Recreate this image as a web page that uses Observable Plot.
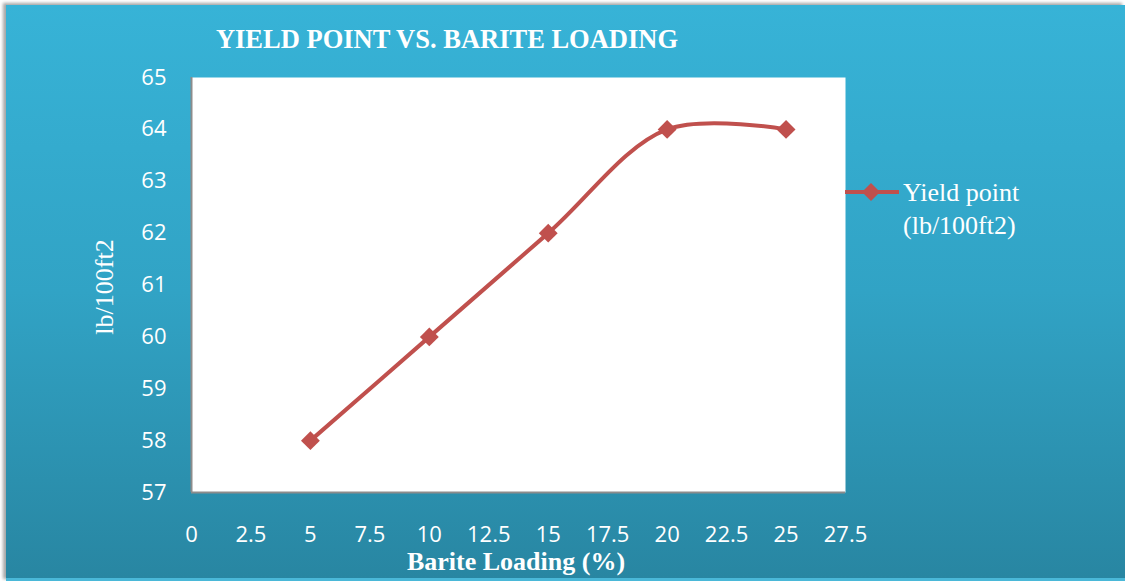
<!DOCTYPE html>
<html>
<head>
<meta charset="utf-8">
<script src="https://cdn.jsdelivr.net/npm/d3@7"></script>
<script src="https://cdn.jsdelivr.net/npm/@observablehq/plot@0.6"></script>
<style>
  html, body { margin: 0; padding: 0; background: #ffffff; }
  #wrap { position: relative; width: 1125px; height: 581px; overflow: hidden; }
  #bg { position: absolute; left: 6px; top: 5px; width: 1119px; height: 573px;
        background: linear-gradient(to bottom, #37b3d7 0%, #31a3c5 50%, #2886a2 100%);
        box-shadow: -3px -2px 3px rgba(0,0,0,0.35); border-bottom: 3px solid #4ab8d8; }
  #chart { position: absolute; left: 0; top: 0; }
  .t { position: absolute; color: #ffffff; font-family: "Liberation Serif", "Times New Roman", serif; white-space: nowrap; line-height: 26px; }
  #title { font-weight: bold; font-size: 26.5px; left: 447px; top: 26px; transform: translateX(-50%); }
  #xlabel { font-weight: bold; font-size: 26px; left: 516px; top: 549px; transform: translateX(-50%); }
  #ylabel { font-size: 26px; left: 105px; top: 287px; transform: translate(-50%, -50%) rotate(-90deg); }
  #legend { left: 845px; top: 176px; }
  #legend svg { position: absolute; left: 0; top: 5px; }
  #legend .lt { position: absolute; left: 58px; top: 0; font-size: 26px; line-height: 33px; }
</style>
</head>
<body>
<div id="wrap">
  <div id="bg"></div>
  <div id="chart"></div>
  <div class="t" id="title">YIELD POINT VS. BARITE LOADING</div>
  <div class="t" id="xlabel">Barite Loading (%)</div>
  <div class="t" id="ylabel">lb/100ft2</div>
  <div class="t" id="legend">
    <svg width="56" height="22"><line x1="0" y1="11" x2="54" y2="11" stroke="#c0504d" stroke-width="4"/><path d="M26,2 L35,11 L26,20 L17,11 Z" fill="#c0504d"/></svg>
    <div class="lt">Yield point<br>(lb/100ft2)</div>
  </div>
</div>
<script>
const bariteLoading = [5, 10, 15, 20, 25];
const yieldPoint = [58, 60, 62, 64, 64];
const xTicks = [0, 2.5, 5, 7.5, 10, 12.5, 15, 17.5, 20, 22.5, 25, 27.5];
const yTicks = [57, 58, 59, 60, 61, 62, 63, 64, 65];
const seriesName = "Yield point (lb/100ft2)";

const data = bariteLoading.map((x, i) => ({x, y: yieldPoint[i]}));

const chart = Plot.plot({
  width: 1125,
  height: 581,
  marginLeft: 191,
  marginRight: 280,
  marginTop: 77,
  marginBottom: 89,
  style: { background: "transparent", color: "white", fontFamily: "'Open Sans', sans-serif", fontSize: "22px" },
  x: { domain: [0, 27.5] },
  y: { domain: [57, 65] },
  marks: [
    Plot.frame({ fill: "white", stroke: null }),
    Plot.axisX({ ticks: xTicks, tickFormat: d => String(d), tickSize: 0, tickPadding: 34, label: null, fill: "white", fontSize: 22 }),
    Plot.axisY({ ticks: yTicks, tickFormat: d => String(d), tickSize: 0, tickPadding: 25, label: null, fill: "white", fontSize: 22 }),
    Plot.ruleX([0], { stroke: "#8c8c8c", strokeWidth: 2, strokeOpacity: 1 }),
    Plot.ruleY([57], { stroke: "#8c8c8c", strokeWidth: 2, strokeOpacity: 1 }),
    Plot.line(data, { x: "x", y: "y", curve: "catmull-rom", stroke: "#c0504d", strokeWidth: 4 }),
    Plot.dot(data, { x: "x", y: "y", symbol: "diamond2", r: 8.5, fill: "#c0504d", stroke: null, title: () => seriesName })
  ]
});
document.getElementById("chart").appendChild(chart);
</script>
</body>
</html>
